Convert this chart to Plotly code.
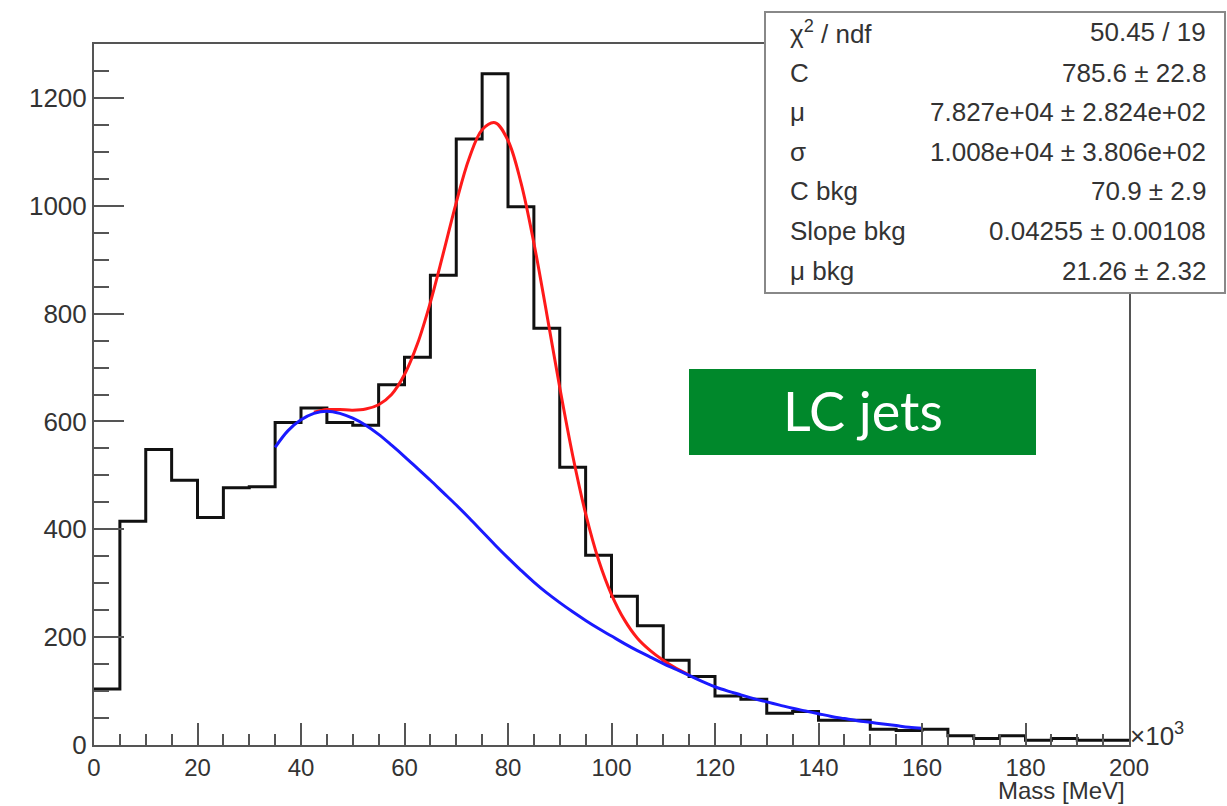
import plotly.graph_objects as go

# ---------------- data ----------------
bin_width = 5  # x10^3 MeV
counts = [104, 415, 548, 491, 422, 477, 479, 598, 625, 598,
          593, 668, 719, 871, 1124, 1245, 998, 773, 515, 352,
          276, 221, 157, 127, 91, 85, 59, 62, 46, 46,
          29, 27, 29, 17, 12, 17, 9, 12, 9, 9]

fit_x = [42.5, 45, 47.5, 50, 52.5, 55, 57.5, 60, 62.5, 65, 67.5, 70, 72.5,
         75, 77.5, 80, 82.5, 85, 87.5, 90, 92.5, 95, 97.5, 100, 102.5,
         105, 107.5, 110, 112.5, 115]
fit_y = [617, 622, 622, 621, 623, 631, 650, 687, 744, 821, 912, 1006, 1088,
         1141, 1154, 1121, 1043, 931, 799, 663, 537, 429, 343, 279, 232,
         198, 175, 157, 142, 130]

bkg_x = [35, 37.5, 40, 42.5, 45, 47.5, 50, 52.5, 55, 57.5, 60, 62.5, 65,
         67.5, 70, 72.5, 75, 77.5, 80, 82.5, 85, 87.5, 90, 92.5, 95, 97.5,
         100, 102.5, 105, 107.5, 110, 112.5, 115, 117.5, 120, 122.5, 125,
         127.5, 130, 132.5, 135, 137.5, 140, 142.5, 145, 147.5, 150, 152.5,
         155, 157.5, 160]
bkg_y = [552, 583, 603, 615, 619, 615, 606, 593, 576, 556, 535, 513, 491,
         468, 445, 421, 396, 371, 347, 324, 302, 282, 264, 247, 231, 216,
         202, 188, 175, 163, 151, 140, 129, 118, 108, 100, 93,
         86, 80, 74, 68, 63, 58, 53, 49, 45, 42, 39,
         36, 33, 31]

stat_labels = ["χ<sup>2</sup> / ndf", "C", "μ", "σ", "C bkg", "Slope bkg", "μ bkg"]
stat_values = ["50.45 / 19", "785.6 ± 22.8", "7.827e+04 ± 2.824e+02",
               "1.008e+04 ± 3.806e+02", "70.9 ± 2.9", "0.04255 ± 0.00108",
               "21.26 ± 2.32"]

# ---------------- layout geometry ----------------
W, H = 1227, 806
L, R, T, B = 94, 1129, 44, 745  # plot area in pixels


def px(x):
    return (x - L) / (R - L)


def py(y):
    return (B - y) / (B - T)


edges = [i * bin_width for i in range(len(counts) + 1)]
step_x = edges
step_y = counts + [counts[-1]]

fig = go.Figure()
fig.add_trace(go.Scatter(x=step_x, y=step_y, mode="lines", line_shape="hv",
                         line=dict(color="#111111", width=3), showlegend=False,
                         hoverinfo="skip"))
fig.add_trace(go.Scatter(x=fit_x, y=fit_y, mode="lines", line_shape="spline",
                         line=dict(color="#ff1a1a", width=3), showlegend=False))
fig.add_trace(go.Scatter(x=bkg_x, y=bkg_y, mode="lines", line_shape="spline",
                         line=dict(color="#1a1aff", width=3), showlegend=False))

tick_font = dict(family="Liberation Sans, Arial, sans-serif", size=26, color="#333333")
axis_col = "#555555"

fig.update_xaxes(range=[0, 200], dtick=20, tick0=0, ticks="inside", ticklen=22,
                 tickwidth=2, tickcolor=axis_col, showline=True, linecolor=axis_col,
                 linewidth=2, mirror=True, showgrid=False, zeroline=False,
                 tickfont=dict(family="Liberation Sans, Arial, sans-serif", size=24,
                               color="#333333"),
                 ticklabelstandoff=0,
                 minor=dict(dtick=5, ticks="inside", ticklen=11, tickwidth=2,
                            tickcolor=axis_col, showgrid=False))
fig.update_yaxes(range=[0, 1300], dtick=200, tick0=0, ticks="inside", ticklen=30,
                 tickwidth=2, tickcolor=axis_col, showline=True, linecolor=axis_col,
                 linewidth=2, mirror=True, showgrid=False, zeroline=False,
                 tickfont=tick_font,
                 minor=dict(dtick=50, ticks="inside", ticklen=15, tickwidth=2,
                            tickcolor=axis_col, showgrid=False))

shapes = [
    # stats box
    dict(type="rect", xref="paper", yref="paper", x0=px(765), x1=px(1225),
         y0=py(293), y1=py(12), fillcolor="white", line=dict(color="#888888", width=2),
         layer="above"),
    # green label box
    dict(type="rect", xref="paper", yref="paper", x0=px(689), x1=px(1036),
         y0=py(455), y1=py(369), fillcolor="#00882b", line=dict(width=0),
         layer="above"),
]

stat_font = dict(family="Liberation Sans, Arial, sans-serif", size=26, color="#333333")
row_y = [32, 73, 112, 152, 191, 231, 271]
annotations = []
for lab, val, yy in zip(stat_labels, stat_values, row_y):
    annotations.append(dict(xref="paper", yref="paper", x=px(788), y=py(yy),
                            text=lab, showarrow=False, xanchor="left",
                            yanchor="middle", font=stat_font))
    annotations.append(dict(xref="paper", yref="paper", x=px(1208), y=py(yy),
                            text=val, showarrow=False, xanchor="right",
                            yanchor="middle", font=stat_font))

annotations += [
    dict(xref="paper", yref="paper", x=px(863), y=py(410), text="LC jets",
         showarrow=False, xanchor="center", yanchor="middle",
         font=dict(family="Lato, sans-serif", size=54, color="white")),
    dict(xref="paper", yref="paper", x=px(1127), y=py(790), text="Mass [MeV]",
         showarrow=False, xanchor="right", yanchor="middle",
         font=dict(family="Liberation Sans, Arial, sans-serif", size=24, color="#333333")),
    dict(xref="paper", yref="paper", x=px(1128), y=py(734), text="×10<sup>3</sup>",
         showarrow=False, xanchor="left", yanchor="middle", font=tick_font),
]

fig.update_layout(width=W, height=H, margin=dict(l=L, r=W - R, t=T, b=H - B),
                  plot_bgcolor="white", paper_bgcolor="white",
                  shapes=shapes, annotations=annotations, showlegend=False)

fig.write_html("out.html")
